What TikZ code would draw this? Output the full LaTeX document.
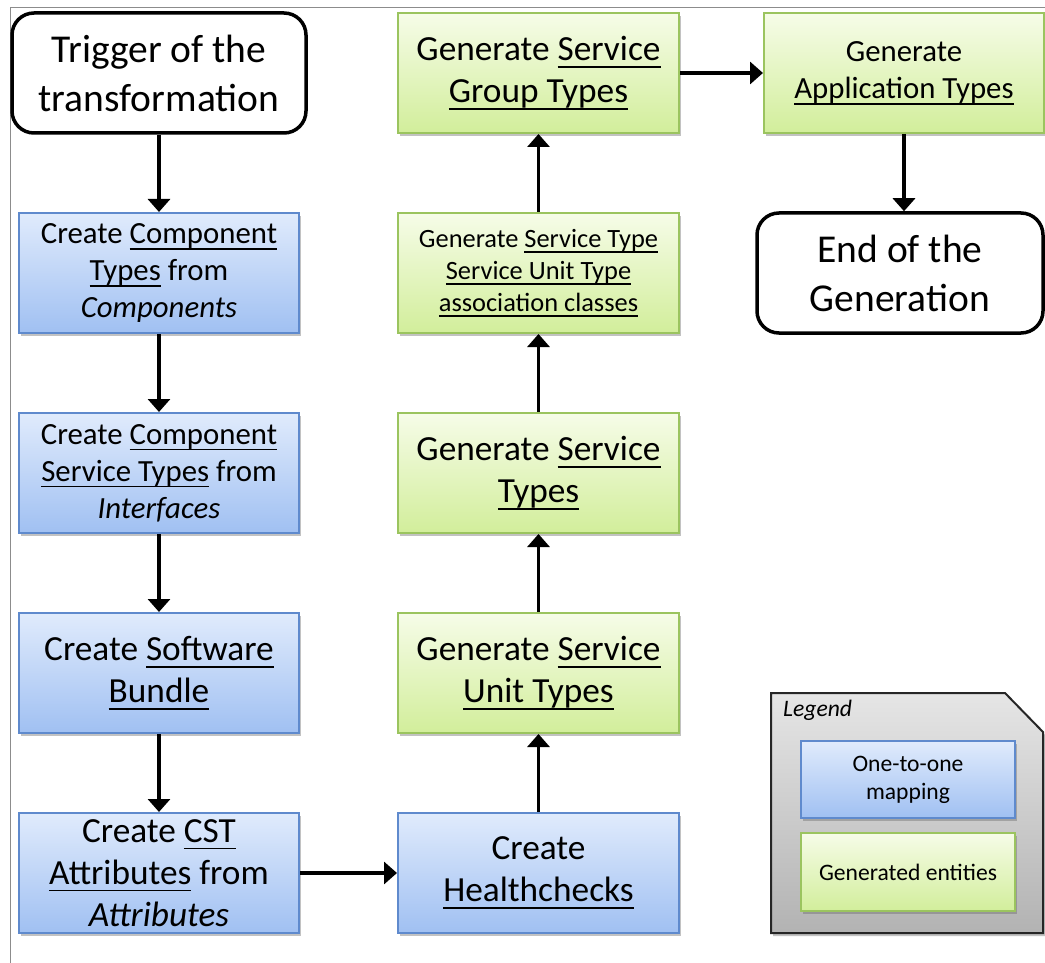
\documentclass[tikz,border=0pt]{standalone}
\usepackage{fontspec}
\setmainfont{Carlito}
\usetikzlibrary{arrows.meta,shadows}

% underline at a fixed depth below the baseline
\newsavebox\ulnbox
\newcommand\uln[1]{\leavevmode\sbox\ulnbox{#1}\rlap{\rule[-0.2em]{\wd\ulnbox}{1.6pt}}\usebox\ulnbox}

% font sizes (1pt of page = 1 unit of the drawing)
\newcommand\fbig{\fontsize{39.5}{49}\selectfont}
\newcommand\fmed{\fontsize{35.3}{42}\selectfont}
\newcommand\fsml{\fontsize{30.8}{37}\selectfont}
\newcommand\ftiny{\fontsize{26.4}{32}\selectfont}
\newcommand\fleg{\fontsize{23.6}{28}\selectfont}

\definecolor{bluetop}{RGB}{224,235,252}
\definecolor{bluebot}{RGB}{160,192,242}
\definecolor{blueedge}{RGB}{95,138,205}
\definecolor{greentop}{RGB}{246,252,232}
\definecolor{greenbot}{RGB}{210,238,155}
\definecolor{greenedge}{RGB}{155,196,95}
\definecolor{framegray}{RGB}{140,140,140}

\tikzset{
  boxshadow/.style={drop shadow={shadow xshift=2pt, shadow yshift=-3pt, opacity=.4, fill=black!60}},
  mapbox/.style={rectangle, draw=blueedge, line width=2pt, top color=bluetop, bottom color=bluebot,
    minimum width=280pt, minimum height=120pt, inner sep=0pt, align=center, boxshadow},
  genbox/.style={rectangle, draw=greenedge, line width=2pt, top color=greentop, bottom color=greenbot,
    minimum width=281pt, minimum height=120pt, inner sep=0pt, align=center, boxshadow},
  terminal/.style={rectangle, rounded corners=22pt, draw=black, line width=3.5pt, fill=white,
    minimum height=120pt, inner sep=0pt, align=center, font=\fbig},
  flow/.style={line width=3.6pt, -{Triangle[length=13pt,width=22pt]}},
  lowtext/.style={yshift=-2pt},
}

\begin{document}
\begin{tikzpicture}[x=1pt, y=-1pt]
\useasboundingbox (0,0) rectangle (1045,963);

% page frame
\draw[framegray, line width=1pt] (10,963) -- (10,8) -- (1045,8);

% start and end
\node[terminal, minimum width=294pt] (trig) at (159,73) {Trigger of the\\transformation};
\node[terminal, minimum width=286pt] (endn) at (900,273) {End of the\\Generation};

% one-to-one mapping steps
\node[mapbox, font=\fsml] (comp) at (159,273) {Create \uln{Component}\\\uln{Types} from\\\textit{Components}};
\node[mapbox, font=\fsml] (cst) at (159,473) {Create \uln{Component}\\\uln{Service Types} from\\\textit{Interfaces}};
\node[mapbox, font=\fmed] (bundle) at (159,673) {Create \uln{Software}\\\uln{Bundle}};
\node[mapbox, font=\fmed] (attr) at (159,873) {Create \uln{CST}\\\uln{Attributes} from\\\textit{Attributes}};
\node[mapbox, minimum width=281pt, font=\fmed] (health) at (538.5,873) {Create\\\uln{Healthchecks}};

% generated entities
\node[genbox, font=\fmed] (sut) at (538.5,673) {Generate \uln{Service}\\\uln{Unit Types}};
\node[genbox, font=\fmed] (svt) at (538.5,473) {Generate \uln{Service}\\\uln{Types}};
\node[genbox, font=\ftiny] (assoc) at (538.5,273) {Generate \uln{Service Type}\\\uln{Service Unit Type}\\\uln{association classes}};
\node[genbox, font=\fmed] (sgt) at (538.5,73) {Generate \uln{Service}\\\uln{Group Types}};
\node[genbox, minimum width=280pt, font=\fsml] (app) at (904,73) {Generate\\\uln{Application Types}};

% flow
\draw[flow] (trig) -- (comp);
\draw[flow] (comp) -- (cst);
\draw[flow] (cst) -- (bundle);
\draw[flow] (bundle) -- (attr);
\draw[flow] (attr) -- (health);
\draw[flow] (health) -- (sut);
\draw[flow] (sut) -- (svt);
\draw[flow] (svt) -- (assoc);
\draw[flow] (assoc) -- (sgt);
\draw[flow] (sgt) -- (app);
\draw[flow] (app.south) -- (app.south |- endn.north);

% legend
\path[draw=black!85, line width=2pt, top color=black!10, bottom color=black!30, boxshadow]
  (771,693) -- (1005,693) -- (1043,732) -- (1043,933) -- (771,933) -- cycle;
\node[anchor=base west, font=\fleg\itshape, inner sep=0pt] (legtitle) at (783,716) {Legend};
\node[mapbox, minimum width=214pt, minimum height=77pt, font=\fleg] (legmap) at (908,779.5) {One-to-one\\mapping};
\node[genbox, minimum width=214pt, minimum height=78pt, font=\fleg] (leggen) at (908,872) {Generated entities};
\end{tikzpicture}
\end{document}
